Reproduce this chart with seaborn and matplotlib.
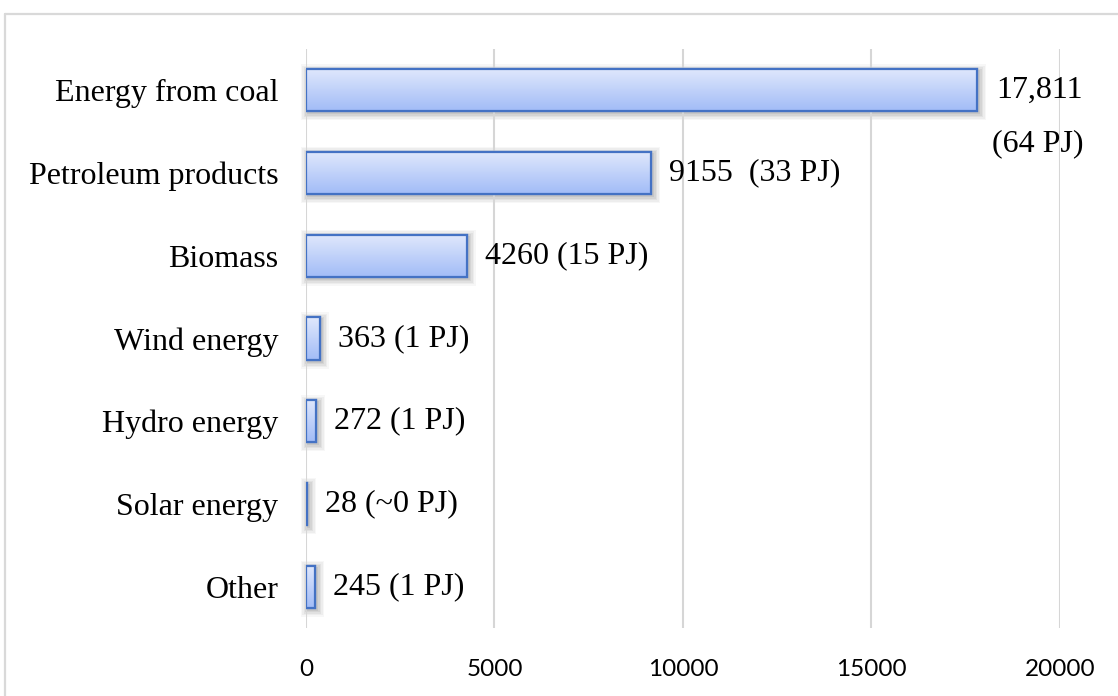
import numpy as np
import pandas as pd
import matplotlib
matplotlib.use("Agg")
import matplotlib.pyplot as plt
from matplotlib.patches import Rectangle
from matplotlib.lines import Line2D
from matplotlib.colors import LinearSegmentedColormap
import seaborn as sns

# Electricity generation by source (GWh) with the primary energy equivalent
sources = ["Energy from coal", "Petroleum products", "Biomass", "Wind energy",
           "Hydro energy", "Solar energy", "Other"]
gwh = [17811, 9155, 4260, 363, 272, 28, 245]
pj = ["64", "33", "15", "1", "1", "~0", "1"]
x_ticks = [0, 5000, 10000, 15000, 20000]

df = pd.DataFrame({"source": sources, "gwh": gwh})

sns.set_theme(style="white")
plt.rcParams["font.family"] = ["Liberation Serif", "DejaVu Serif"]
plt.rcParams["text.color"] = "black"
plt.rcParams["xtick.color"] = "black"
plt.rcParams["ytick.color"] = "black"

DPI = 100
fig = plt.figure(figsize=(11.18, 6.96), dpi=DPI)
ax = fig.add_axes([0.2737, 0.0977, 0.6744, 0.8319])
ax.patch.set_alpha(0)

BAR_H = 0.51
EDGE = "#4472c4"
sns.barplot(data=df, y="source", x="gwh", orient="h", order=sources,
            color="#b8cbf8", width=BAR_H, edgecolor=EDGE, linewidth=1.6,
            saturation=1, ax=ax, zorder=3)

ax.set_xlim(0, 20000)
ax.set_ylim(len(sources) - 0.5, -0.5)
ax.set_xticks(x_ticks)
ax.set_xlabel("")
ax.set_ylabel("")
for s in ax.spines.values():
    s.set_visible(False)
ax.grid(axis="x", color="#d6d6d6", linewidth=1.5, zorder=0)
ax.grid(axis="y", visible=False)
ax.tick_params(axis="x", length=0, pad=22, labelsize=17.5, labelcolor="black")
ax.tick_params(axis="y", length=0, pad=20, labelsize=23, labelcolor="black")
for t in ax.get_xticklabels():
    t.set_family(["Lato", "DejaVu Sans"])

# vertical gradient fill and a soft shadow for every bar
grad_cmap = LinearSegmentedColormap.from_list("barfill", ["#e0e8fc", "#a2bcf7"])
grad = np.linspace(0, 1, 64).reshape(-1, 1)
fig.canvas.draw()
for patch in list(ax.patches):
    x0, y0 = patch.get_x(), patch.get_y()
    w, h = patch.get_width(), patch.get_height()
    (px0, py0), (px1, py1) = ax.transData.transform([(x0, y0), (x0 + w, y0 + h)])
    left, right = min(px0, px1), max(px0, px1)
    bottom, top = min(py0, py1), max(py0, py1)
    for k, a in [(7, 0.05), (5.5, 0.07), (4, 0.09), (2.5, 0.11), (1, 0.13)]:
        sh = Rectangle((left - k + 2, bottom - k - 2), right - left + 2 * k,
                       top - bottom + 2 * k, transform=None, facecolor="#6f6f6f",
                       edgecolor="none", alpha=a, zorder=-1)
        fig.add_artist(sh)
    im = ax.imshow(grad, cmap=grad_cmap, aspect="auto", interpolation="bicubic",
                   extent=[x0, x0 + w, y0 + h, y0], zorder=3.5)
    im.set_clip_path(patch)
    edge = Rectangle((x0, y0), w, h, facecolor="none", edgecolor=EDGE,
                     linewidth=1.6, zorder=4)
    ax.add_patch(edge)
    patch.set_facecolor("none")

ax.set_xlim(0, 20000)
ax.set_ylim(len(sources) - 0.5, -0.5)

# value labels: GWh followed by PJ
for i, (v, p) in enumerate(zip(gwh, pj)):
    num = f"{v:,}" if v >= 10000 else str(v)
    if v >= 10000:
        ax.annotate(num, (v, i), xytext=(62, 0), textcoords="offset pixels",
                    ha="center", va="center", fontsize=23, zorder=5,
                    color="black", annotation_clip=False)
        ax.annotate(f"({p} PJ)", (v, i), xytext=(60, -53),
                    textcoords="offset pixels", ha="center", va="center",
                    fontsize=23, zorder=5, color="black", annotation_clip=False)
    else:
        gap = "  " if v == 9155 else " "
        ax.annotate(f"{num}{gap}({p} PJ)", (v, i), xytext=(18, 0),
                    textcoords="offset pixels", ha="left", va="center",
                    fontsize=23, zorder=5, color="black", annotation_clip=False)

# frame around the chart area
fig.add_artist(Line2D([5 / 1118, 1.0], [1 - 14 / 696, 1 - 14 / 696],
                      transform=fig.transFigure, color="#d9d9d9", lw=1.6))
fig.add_artist(Line2D([5 / 1118, 5 / 1118], [0.0, 1 - 14 / 696],
                      transform=fig.transFigure, color="#d9d9d9", lw=1.6))

fig.savefig("out.png", dpi=DPI, facecolor="white")
